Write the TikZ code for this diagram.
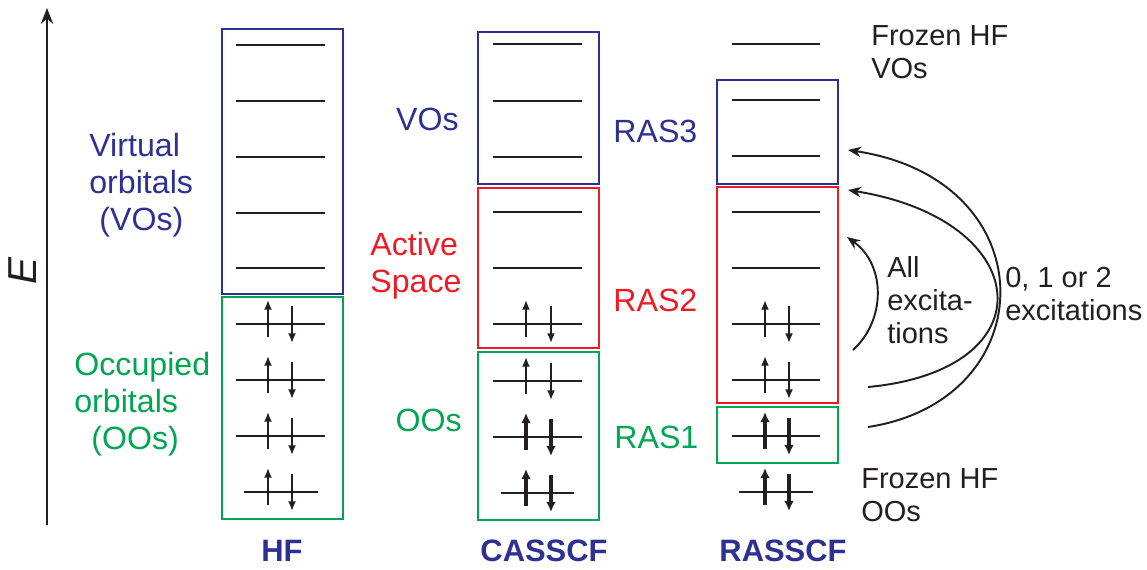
\documentclass[tikz,border=0pt]{standalone}
\usepackage{fontspec}
\setmainfont{Liberation Sans}
\usetikzlibrary{arrows.meta}
\definecolor{voblue}{RGB}{46,49,146}
\definecolor{asred}{RGB}{237,28,36}
\definecolor{oogreen}{RGB}{0,166,81}
\definecolor{ink}{RGB}{35,31,32}
\tikzset{
    level/.style={draw=ink,line width=1.2pt},
    vobox/.style={draw=voblue,line width=0.9pt},
    asbox/.style={draw=asred,line width=0.9pt},
    oobox/.style={draw=oogreen,line width=0.9pt},
    spin/.style={draw=ink,line width=1.2pt,-{Latex[length=5.5pt,width=4.6pt]}},
    bigspin/.style={draw=ink,line width=2pt,-{Latex[length=5.8pt,width=5.6pt]}},
    excite/.style={draw=ink,line width=1.1pt,-{Stealth[length=7.5pt,width=6pt]}},
    lbl/.style={font=\fontsize{18.3}{21}\selectfont,inner sep=0pt},
    note/.style={font=\fontsize{16.5}{18.8}\selectfont,text=ink,inner sep=0pt,align=left,anchor=west},
    method/.style={font=\fontsize{17.6}{21}\selectfont\bfseries,text=voblue,inner sep=0pt},
}
\begin{document}
\begin{tikzpicture}[x=0.02cm,y=-0.02cm]
\useasboundingbox (0,0) rectangle (1147,569);
% energy axis
\coordinate (Ebot) at (47,525);
\coordinate (Etop) at (47,8);
\draw[draw=ink,line width=1.1pt,-{Stealth[length=9pt,width=7pt]}] (Ebot) -- (Etop);
\node[lbl,font=\fontsize{23}{26}\selectfont\itshape,text=ink,rotate=90] (E) at (23,271) {E};

% HF
\draw[vobox] (222,29) rectangle (343,294);
\draw[oobox] (222,297) rectangle (343,519);
\foreach \y in {45,101,157,213,268,324,380,436}
    \draw[level] (236,\y) -- (325,\y);
\draw[level] (244,492) -- (318,492);
\foreach \y in {324,380,436,492}{
    \draw[spin] (268,\y+13) -- (268,\y-24);
    \draw[spin] (292,\y-18) -- (292,\y+19);
}
\node[lbl,text=voblue,align=left,anchor=west] (vlabel) at (89,185) {Virtual\\orbitals\\\hspace*{0.2cm}(VOs)};
\node[lbl,text=oogreen,align=left,anchor=west] (olabel) at (74,404) {Occupied\\orbitals\\\hspace*{0.34cm}(OOs)};
\node[method] (hf) at (282,551) {HF};

% CASSCF
\draw[vobox] (478,32) rectangle (599,184);
\draw[asbox] (478,188) rectangle (599,348);
\draw[oobox] (478,352) rectangle (599,520);
\foreach \y in {44,101,157,212,268,324,381,437}
    \draw[level] (493,\y) -- (582,\y);
\draw[level] (501,493) -- (574,493);
\foreach \y in {324,381}{
    \draw[spin] (526,\y+13) -- (526,\y-24);
    \draw[spin] (551,\y-18) -- (551,\y+19);
}
\foreach \y in {437,493}{
    \draw[bigspin] (526,\y+13) -- (526,\y-24);
    \draw[bigspin] (551,\y-18) -- (551,\y+19);
}
\node[lbl,text=voblue,anchor=east] (vos) at (459,119) {VOs};
\node[lbl,text=asred,align=left,anchor=west] (active) at (370,266) {Active\\Space};
\node[lbl,text=oogreen,anchor=east] (oos) at (462,420) {OOs};
\node[method] (cas) at (544,551) {CASSCF};

% RASSCF
\draw[vobox] (717,80) rectangle (838,184);
\draw[asbox] (717,187) rectangle (838,403);
\draw[oobox] (717,407) rectangle (838,463);
\foreach \y in {44,100,156,212,268,324,380,436}
    \draw[level] (732,\y) -- (820,\y);
\draw[level] (739,492) -- (813,492);
\foreach \y in {324,380}{
    \draw[spin] (765,\y+13) -- (765,\y-24);
    \draw[spin] (789,\y-18) -- (789,\y+19);
}
\foreach \y in {436,492}{
    \draw[bigspin] (765,\y+13) -- (765,\y-24);
    \draw[bigspin] (789,\y-18) -- (789,\y+19);
}
\node[lbl,text=voblue,anchor=west] (ras3) at (613,131) {RAS3};
\node[lbl,text=asred,anchor=west] (ras2) at (613,300) {RAS2};
\node[lbl,text=oogreen,anchor=west] (ras1) at (614,437) {RAS1};
\node[note] (fvo) at (871,52) {Frozen HF\\VOs};
\node[note] (foo) at (861,495) {Frozen HF\\OOs};
\node[method] (ras) at (783,551) {RASSCF};

% excitations
\coordinate (a1s) at (853,350);
\coordinate (a1e) at (847,237);
\coordinate (a2s) at (868,387);
\coordinate (a2e) at (848,190);
\coordinate (a3s) at (868,427);
\coordinate (a3e) at (848,150);
\draw[excite] (a1s) .. controls (886,320) and (886,265) .. (a1e);
\draw[excite] (a2s) .. controls (1050,370) and (1035,220) .. (a2e);
\draw[excite] (a3s) .. controls (1045,400) and (1048,180) .. (a3e);
\node[note] (all) at (887,300) {All\\excita-\\tions};
\node[note] (some) at (1005,294) {0, 1 or 2\\excitations};
\end{tikzpicture}
\end{document}
